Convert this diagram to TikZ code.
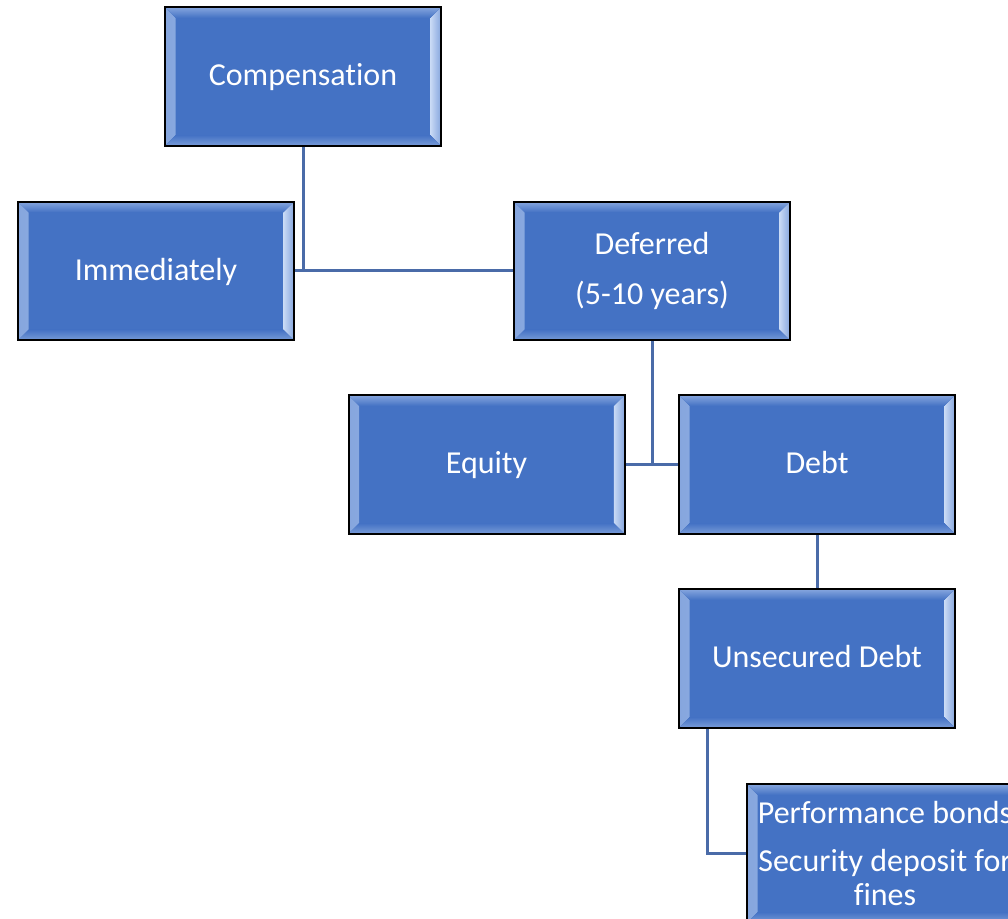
\documentclass[tikz,border=0pt]{standalone}
\usepackage{fontspec}
\setmainfont{Carlito}[Ligatures=NoCommon]
\usepackage{tikz}

\definecolor{boxblue}{HTML}{4472C4}
\definecolor{linkblue}{HTML}{4A6BA8}
\definecolor{bevellight}{HTML}{C9DAF5}
\definecolor{bevelmid}{HTML}{86A6DE}

\tikzset{
  orgbox/.style={draw=black, line width=1.5pt, fill=boxblue, text=white,
    minimum width=207pt, minimum height=104pt, inner sep=0pt, align=center,
    font=\fontsize{24}{25.5}\selectfont,
    path picture={
      % left bevel
      \fill[left color=bevelmid, right color=bevellight]
        (path picture bounding box.north west) -- ([xshift=8pt,yshift=-8pt]path picture bounding box.north west)
        -- ([xshift=8pt,yshift=8pt]path picture bounding box.south west) -- (path picture bounding box.south west) -- cycle;
      % right bevel
      \fill[left color=bevellight, right color=bevelmid]
        (path picture bounding box.north east) -- ([xshift=-8pt,yshift=-8pt]path picture bounding box.north east)
        -- ([xshift=-8pt,yshift=8pt]path picture bounding box.south east) -- (path picture bounding box.south east) -- cycle;
      % top and bottom edges
      \fill[top color=bevelmid, bottom color=boxblue]
        (path picture bounding box.north west) -- ([xshift=8pt,yshift=-8pt]path picture bounding box.north west)
        -- ([xshift=-8pt,yshift=-8pt]path picture bounding box.north east) -- (path picture bounding box.north east) -- cycle;
      \fill[top color=boxblue, bottom color=bevelmid!80!boxblue]
        (path picture bounding box.south west) -- ([xshift=8pt,yshift=8pt]path picture bounding box.south west)
        -- ([xshift=-8pt,yshift=8pt]path picture bounding box.south east) -- (path picture bounding box.south east) -- cycle;
    }},
  oneline/.style={text height=19pt, text depth=5pt},
  link/.style={draw=linkblue, line width=2.25pt}
}

\begin{document}
\begin{tikzpicture}[x=0.75pt,y=-0.75pt]
  \useasboundingbox (0,0) rectangle (1008,919);
  \clip (0,0) rectangle (1008,919);

  % boxes
  \node[orgbox,oneline] (comp) at (303,76.5) {Compensation};
  \node[orgbox,oneline] (immed) at (156,271) {Immediately};
  \node[orgbox] (defer) at (652,271) {Deferred\\[12pt](5-10 years)};
  \node[orgbox,oneline] (equity) at (486.5,464.5) {Equity};
  \node[orgbox,oneline] (debt) at (817,464.5) {Debt};
  \node[orgbox,oneline] (unsec) at (817,658.5) {Unsecured Debt};
  \node[orgbox] (perf) at (885,853.5) {Performance bonds\\[10.5pt]Security deposit for\\fines};

  % connectors
  \draw[link] (comp.south) -- (comp.south |- immed.east);
  \draw[link] (immed.east) -- (defer.west);
  \draw[link] (defer.south) -- (defer.south |- equity.east);
  \draw[link] (equity.east) -- (debt.west);
  \draw[link] (debt.south) -- (unsec.north);
  \draw[link] ([xshift=21.75pt]unsec.south west) |- (perf.west);
\end{tikzpicture}
\end{document}
